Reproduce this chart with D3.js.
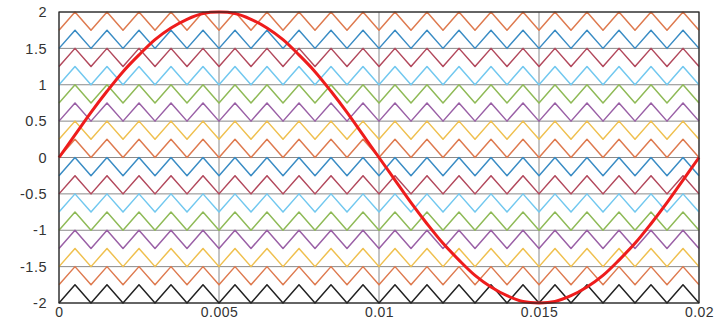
<!DOCTYPE html>
<html>
<head>
<meta charset="utf-8">
<script src="https://cdn.jsdelivr.net/npm/d3@7"></script>
<style>
  body { margin: 0; background: #fff; }
  svg { display: block; font-family: "Liberation Sans", Arial, sans-serif; }
</style>
</head>
<body>
<div id="chart"></div>
<script>
// Time samples (s), every half carrier period
const times = [0, 0.0005, 0.001, 0.0015, 0.002, 0.0025, 0.003, 0.0035, 0.004, 0.0045,
  0.005, 0.0055, 0.006, 0.0065, 0.007, 0.0075, 0.008, 0.0085, 0.009, 0.0095,
  0.01, 0.0105, 0.011, 0.0115, 0.012, 0.0125, 0.013, 0.0135, 0.014, 0.0145,
  0.015, 0.0155, 0.016, 0.0165, 0.017, 0.0175, 0.018, 0.0185, 0.019, 0.0195, 0.02];

// Reference (red) wave
const reference = [0, 0.31, 0.62, 0.91, 1.18, 1.41, 1.62, 1.78, 1.9, 1.98,
  2, 1.98, 1.9, 1.78, 1.62, 1.41, 1.18, 0.91, 0.62, 0.31,
  0, -0.31, -0.62, -0.91, -1.18, -1.41, -1.62, -1.78, -1.9, -1.98,
  -2, -1.98, -1.9, -1.78, -1.62, -1.41, -1.18, -0.91, -0.62, -0.31, 0];

// Carrier shape within its band (0 = bottom, 1 = top)
const carrierShape = [0, 1, 0, 1, 0, 1, 0, 1, 0, 1, 0, 1, 0, 1, 0, 1, 0, 1, 0, 1,
  0, 1, 0, 1, 0, 1, 0, 1, 0, 1, 0, 1, 0, 1, 0, 1, 0, 1, 0, 1, 0];

// Bottom of each carrier band and its colour
const bandBottoms = [-2, -1.75, -1.5, -1.25, -1, -0.75, -0.5, -0.25,
  0, 0.25, 0.5, 0.75, 1, 1.25, 1.5, 1.75];
const bandColors = ["#222222", "#de7a4f", "#efc04f", "#9a60a6", "#8fba57", "#72c8ef", "#b2485c", "#3a8cc4",
  "#de7a4f", "#efc04f", "#9a60a6", "#8fba57", "#72c8ef", "#b2485c", "#3a8cc4", "#de7a4f"];
const bandHeight = 0.25;

const xTicks = [0, 0.005, 0.01, 0.015, 0.02];
const xTickLabels = ["0", "0.005", "0.01", "0.015", "0.02"];
const yTicks = [-2, -1.5, -1, -0.5, 0, 0.5, 1, 1.5, 2];
const yTickLabels = ["-2", "-1.5", "-1", "-0.5", "0", "0.5", "1", "1.5", "2"];

const W = 718, H = 321;
const margin = {top: 12, right: 19, bottom: 18, left: 59};
const width = W - margin.left - margin.right;
const height = H - margin.top - margin.bottom;

const svg = d3.select("#chart").append("svg")
  .attr("width", W)
  .attr("height", H);

const g = svg.append("g")
  .attr("transform", "translate(" + margin.left + "," + margin.top + ")");

const x = d3.scaleLinear().domain([0, 0.02]).range([0, width]);
const y = d3.scaleLinear().domain([-2, 2]).range([height, 0]);

// Grid
g.append("g").selectAll("line")
  .data(xTicks)
  .enter().append("line")
  .attr("x1", d => x(d)).attr("x2", d => x(d))
  .attr("y1", 0).attr("y2", height)
  .attr("stroke", "#8a8a8a")
  .attr("stroke-width", 1);

g.append("g").selectAll("line")
  .data(yTicks)
  .enter().append("line")
  .attr("x1", 0).attr("x2", width)
  .attr("y1", d => y(d)).attr("y2", d => y(d))
  .attr("stroke", "#8a8a8a")
  .attr("stroke-width", 1);

// Carriers
const line = d3.line()
  .x(d => x(d.t))
  .y(d => y(d.v));

bandBottoms.forEach((b, i) => {
  const pts = times.map((t, k) => ({t: t, v: b + bandHeight * carrierShape[k]}));
  g.append("path")
    .datum(pts)
    .attr("fill", "none")
    .attr("stroke", bandColors[i])
    .attr("stroke-width", 1.5)
    .attr("stroke-linejoin", "round")
    .attr("d", line);
});

// Reference sine
const smooth = d3.line()
  .x(d => x(d.t))
  .y(d => y(d.v))
  .curve(d3.curveCatmullRom);

g.append("path")
  .datum(times.map((t, k) => ({t: t, v: reference[k]})))
  .attr("fill", "none")
  .attr("stroke", "#ee1c1c")
  .attr("stroke-width", 3)
  .attr("d", smooth);

// Box
g.append("rect")
  .attr("x", 0).attr("y", 0)
  .attr("width", width).attr("height", height)
  .attr("fill", "none")
  .attr("stroke", "#262626")
  .attr("stroke-width", 1.2);

// Axes
const xAxis = g.append("g")
  .attr("transform", "translate(0," + height + ")")
  .call(d3.axisBottom(x).tickValues(xTicks).tickFormat((d, i) => xTickLabels[i]).tickSize(0).tickPadding(4));
xAxis.select(".domain").remove();
xAxis.selectAll("text").attr("fill", "#333").style("font-size", "14px").style("letter-spacing", "0.5px");

const yAxis = g.append("g")
  .call(d3.axisLeft(y).tickValues(yTicks).tickFormat((d, i) => yTickLabels[i]).tickSize(0).tickPadding(12));
yAxis.select(".domain").remove();
yAxis.selectAll("text").attr("fill", "#333").style("font-size", "14.5px").style("letter-spacing", "0.5px");
</script>
</body>
</html>
